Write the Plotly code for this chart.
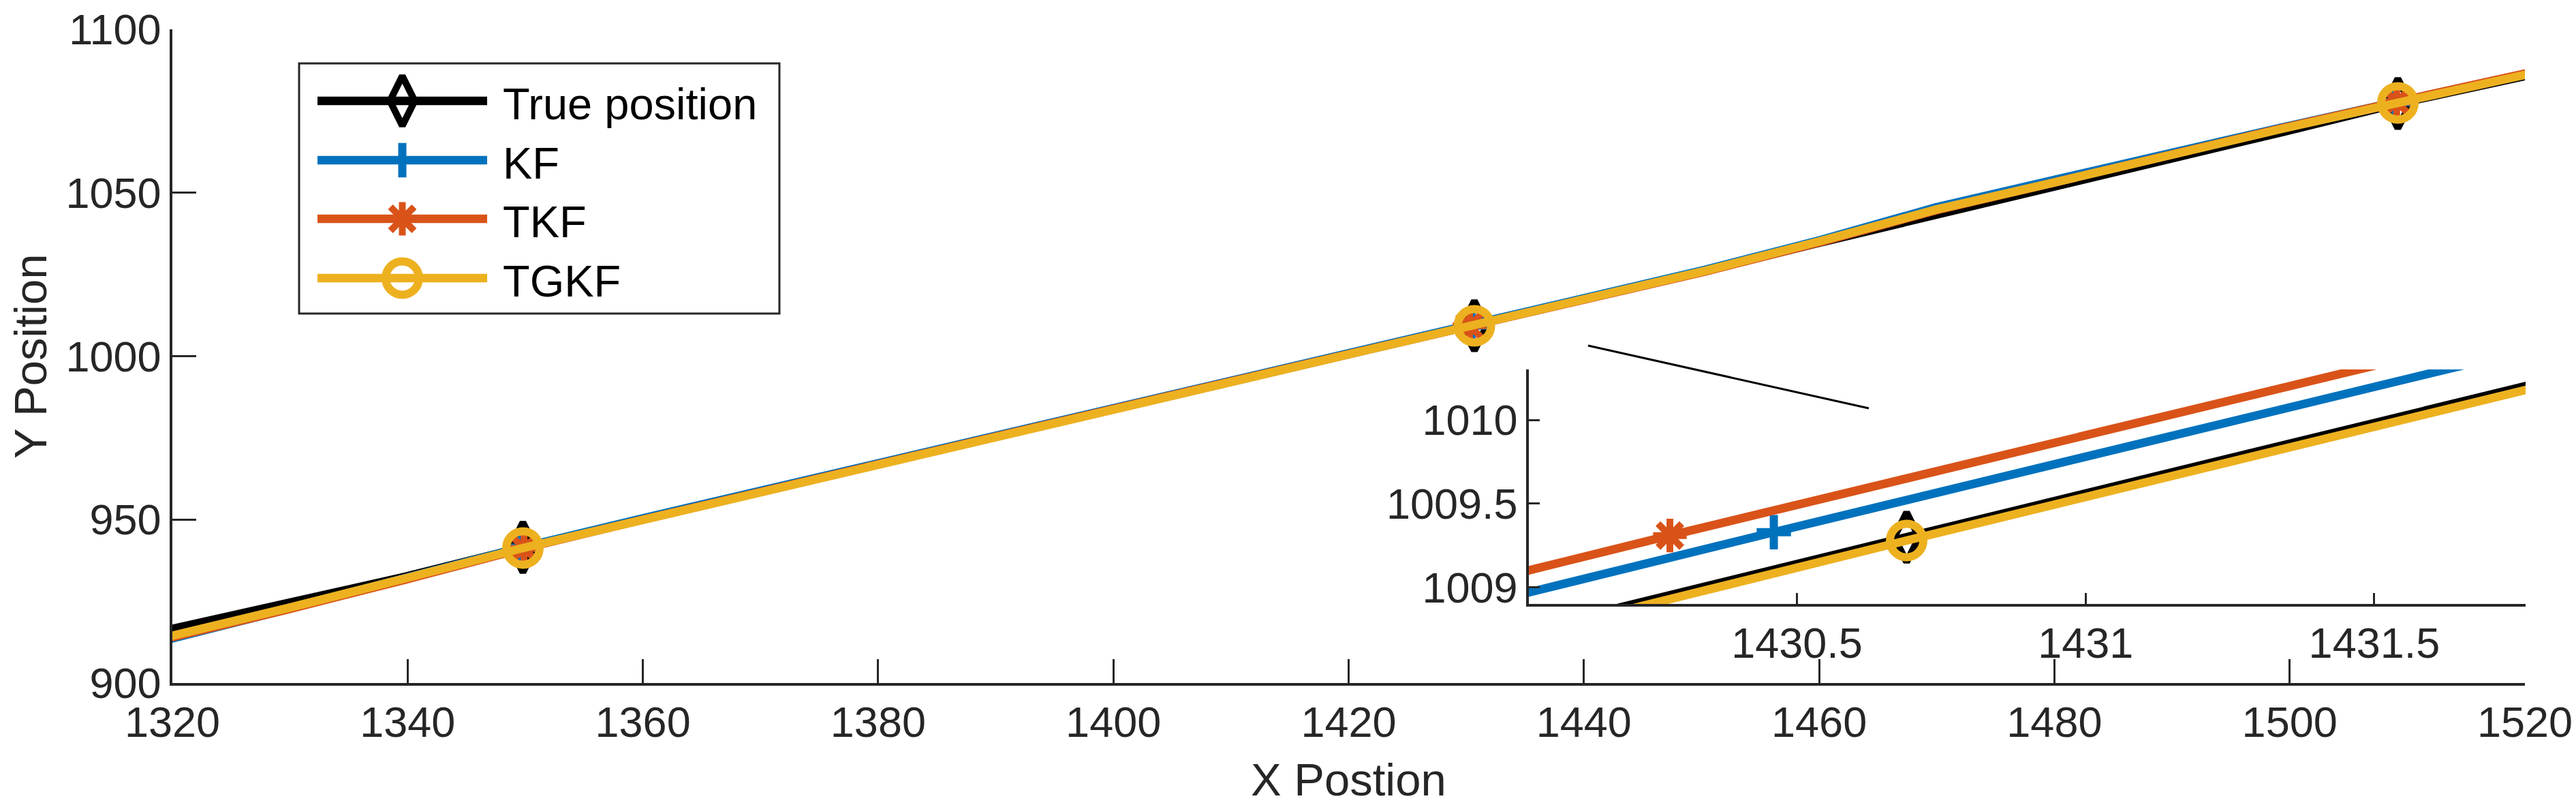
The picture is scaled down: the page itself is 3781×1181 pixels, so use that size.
import plotly.graph_objects as go

W, H = 3781, 1181

# ---------------- data ----------------
series_names = ["True position", "KF", "TKF", "TGKF"]
series_colors = ["#000000", "#0072BD", "#D95319", "#EDB120"]
series_symbols = ["diamond-tall-open", "cross-thin-open", "asterisk-open", "circle-open"]
marker_idx = [4, 12, 20]

true_x = [1309.6, 1319.7, 1329.8, 1339.8, 1349.8, 1359.9, 1370.0, 1380.1, 1390.2, 1400.3, 1410.4, 1420.5,
          1430.69, 1440.5, 1450.3, 1460.1, 1469.9, 1479.7, 1489.5, 1499.4, 1509.2, 1519.0, 1528.8]
true_y = [908.2, 916.3, 924.6, 932.5, 941.5, 950.0, 958.4, 966.9, 975.4, 983.8, 992.3, 1000.7,
          1009.30, 1017.55, 1026.1, 1034.8, 1043.1, 1051.4, 1060.0, 1068.6, 1077.3, 1084.9, 1092.5]

kf_x = [1309.6, 1319.7, 1329.8, 1339.8, 1349.6, 1359.9, 1370.0, 1380.1, 1390.2, 1400.3, 1410.4, 1420.5,
        1430.46, 1440.5, 1450.3, 1460.1, 1469.9, 1479.7, 1489.5, 1499.4, 1509.0, 1519.0, 1528.8]
kf_y = [905.0, 913.4, 922.6, 931.9, 941.4, 950.3, 958.8, 967.2, 975.6, 984.0, 992.5, 1000.9,
        1009.33, 1017.7, 1026.4, 1035.5, 1045.5, 1053.7, 1062.0, 1070.0, 1077.7, 1085.6, 1093.2]

tkf_x = [1309.6, 1319.7, 1329.8, 1339.8, 1349.9, 1359.9, 1370.0, 1380.1, 1390.2, 1400.3, 1410.4, 1420.5,
         1430.28, 1440.5, 1450.3, 1460.1, 1469.9, 1479.7, 1489.5, 1499.4, 1509.1, 1519.0, 1528.8]
tkf_y = [905.0, 913.5, 922.5, 931.6, 941.2, 949.9, 958.6, 967.1, 975.6, 984.1, 992.6, 1001.0,
         1009.31, 1017.8, 1025.9, 1034.9, 1044.6, 1052.9, 1061.5, 1069.8, 1077.8, 1085.7, 1093.5]

tgkf_x = [1309.6, 1319.7, 1329.8, 1339.8, 1349.8, 1359.9, 1370.0, 1380.1, 1390.2, 1400.3, 1410.4, 1420.5,
          1430.69, 1440.5, 1450.3, 1460.1, 1469.9, 1479.7, 1489.5, 1499.4, 1509.2, 1519.0, 1528.8]
tgkf_y = [905.5, 913.9, 922.9, 932.0, 941.3, 949.8, 958.3, 966.8, 975.2, 983.7, 992.2, 1000.6,
          1009.28, 1017.5, 1026.1, 1035.2, 1044.8, 1052.9, 1061.4, 1069.6, 1077.5, 1085.3, 1093.0]

series_x = [true_x, kf_x, tkf_x, tgkf_x]
series_y = [true_y, kf_y, tkf_y, tgkf_y]

x_ticks_main = [1320, 1340, 1360, 1380, 1400, 1420, 1440, 1460, 1480, 1500, 1520]
y_ticks_main = [900, 950, 1000, 1050, 1100]
x_ticks_inset = [1430.5, 1431, 1431.5]
x_ticktext_inset = ["1430.5", "1431", "1431.5"]
y_ticks_inset = [1009, 1009.5, 1010]
y_ticktext_inset = ["1009", "1009.5", "1010"]

x_label = "X Postion"
y_label = "Y Position"

# ---------------- style ----------------
FONT = "Liberation Sans, Arial, Helvetica, sans-serif"
AX_COL = "#262626"
LINE_W = 12.5
marker_sizes = [52, 36, 41, 49]
marker_lw = [10, 12, 10, 12]

fig = go.Figure()

for ax_x, ax_y in (("x", "y"), ("x2", "y2")):
    for name, xs, ys, col, sym, ms, mlw in zip(series_names, series_x, series_y, series_colors,
                                               series_symbols, marker_sizes, marker_lw):
        fig.add_trace(go.Scatter(x=xs, y=ys, mode="lines", line=dict(color=col, width=LINE_W),
                                 xaxis=ax_x, yaxis=ax_y, showlegend=False, hoverinfo="skip"))
        fig.add_trace(go.Scatter(x=[xs[i] for i in marker_idx], y=[ys[i] for i in marker_idx],
                                 mode="markers",
                                 marker=dict(symbol=sym, size=ms, color=col,
                                             line=dict(color=col, width=mlw)),
                                 xaxis=ax_x, yaxis=ax_y, showlegend=False, hoverinfo="skip"))

# custom legend in a pixel-space overlay axis
legend_rows = [148, 235, 321, 408]
for name, col, sym, ms, mlw, ry in zip(series_names, series_colors, series_symbols,
                                       marker_sizes, marker_lw, legend_rows):
    fig.add_trace(go.Scatter(x=[466, 715], y=[ry, ry], mode="lines",
                             line=dict(color=col, width=LINE_W), xaxis="x3", yaxis="y3",
                             showlegend=False, hoverinfo="skip"))
    fig.add_trace(go.Scatter(x=[590.5], y=[ry], mode="markers",
                             marker=dict(symbol=sym, size=ms, color=col, line=dict(color=col, width=mlw)),
                             xaxis="x3", yaxis="y3", showlegend=False, hoverinfo="skip"))

tickfont = dict(family=FONT, size=63, color=AX_COL)
common = dict(showgrid=False, zeroline=False, showline=True, linecolor=AX_COL, linewidth=3.5,
              ticks="inside", tickcolor=AX_COL, tickwidth=3, tickfont=tickfont, mirror=False,
              automargin=False)

annotations = []
for name, ry in zip(series_names, legend_rows):
    annotations.append(dict(x=736, y=ry + 4, xref="x3", yref="y3", text=name, showarrow=False,
                            xanchor="left", yanchor="middle",
                            font=dict(family=FONT, size=65, color="#000000")))
annotations.append(dict(x=1979, y=1143, xref="x3", yref="y3", text=x_label, showarrow=False,
                        xanchor="center", yanchor="middle", font=dict(family=FONT, size=67, color=AX_COL)))
annotations.append(dict(x=44, y=523, xref="x3", yref="y3", text=y_label, showarrow=False,
                        textangle=-90, xanchor="center", yanchor="middle",
                        font=dict(family=FONT, size=67, color=AX_COL)))

shapes = [
    dict(type="rect", xref="x3", yref="y3", x0=439, y0=93, x1=1144, y1=460,
         fillcolor="white", line=dict(color=AX_COL, width=3), layer="below"),
    dict(type="line", xref="x3", yref="y3", x0=2331, y0=507, x1=2743, y1=599,
         line=dict(color="#000000", width=3)),
]

fig.update_layout(
    template="none",
    width=W, height=H,
    margin=dict(l=0, r=0, t=0, b=0, pad=0, autoexpand=False),
    paper_bgcolor="white", plot_bgcolor="rgba(0,0,0,0)",
    showlegend=False,
    xaxis=dict(domain=[253 / W, 3706 / W], range=[1320, 1520], tickvals=x_ticks_main,
               ticklen=35, anchor="y", **common),
    yaxis=dict(domain=[1 - 1002 / H, 1 - 43 / H], range=[900, 1100], tickvals=y_ticks_main,
               ticklen=35, anchor="x", **common),
    xaxis2=dict(domain=[2244 / W, 3707 / W], range=[1430.0357, 1431.762], tickvals=x_ticks_inset,
                ticktext=x_ticktext_inset, ticklen=16, anchor="y2", **common),
    yaxis2=dict(domain=[1 - 886 / H, 1 - 542 / H], range=[1008.902, 1010.301], tickvals=y_ticks_inset,
                ticktext=y_ticktext_inset, ticklen=16, anchor="x2", **common),
    xaxis3=dict(domain=[0, 1], range=[0, W], visible=False, anchor="y3", fixedrange=True,
                automargin=False),
    yaxis3=dict(domain=[0, 1], range=[H, 0], visible=False, anchor="x3", fixedrange=True,
                automargin=False),
    annotations=annotations,
    shapes=shapes,
)

fig.write_html("out.html", config={"displayModeBar": False},
               post_script="document.body.style.margin='0';document.body.style.overflow='hidden';")
